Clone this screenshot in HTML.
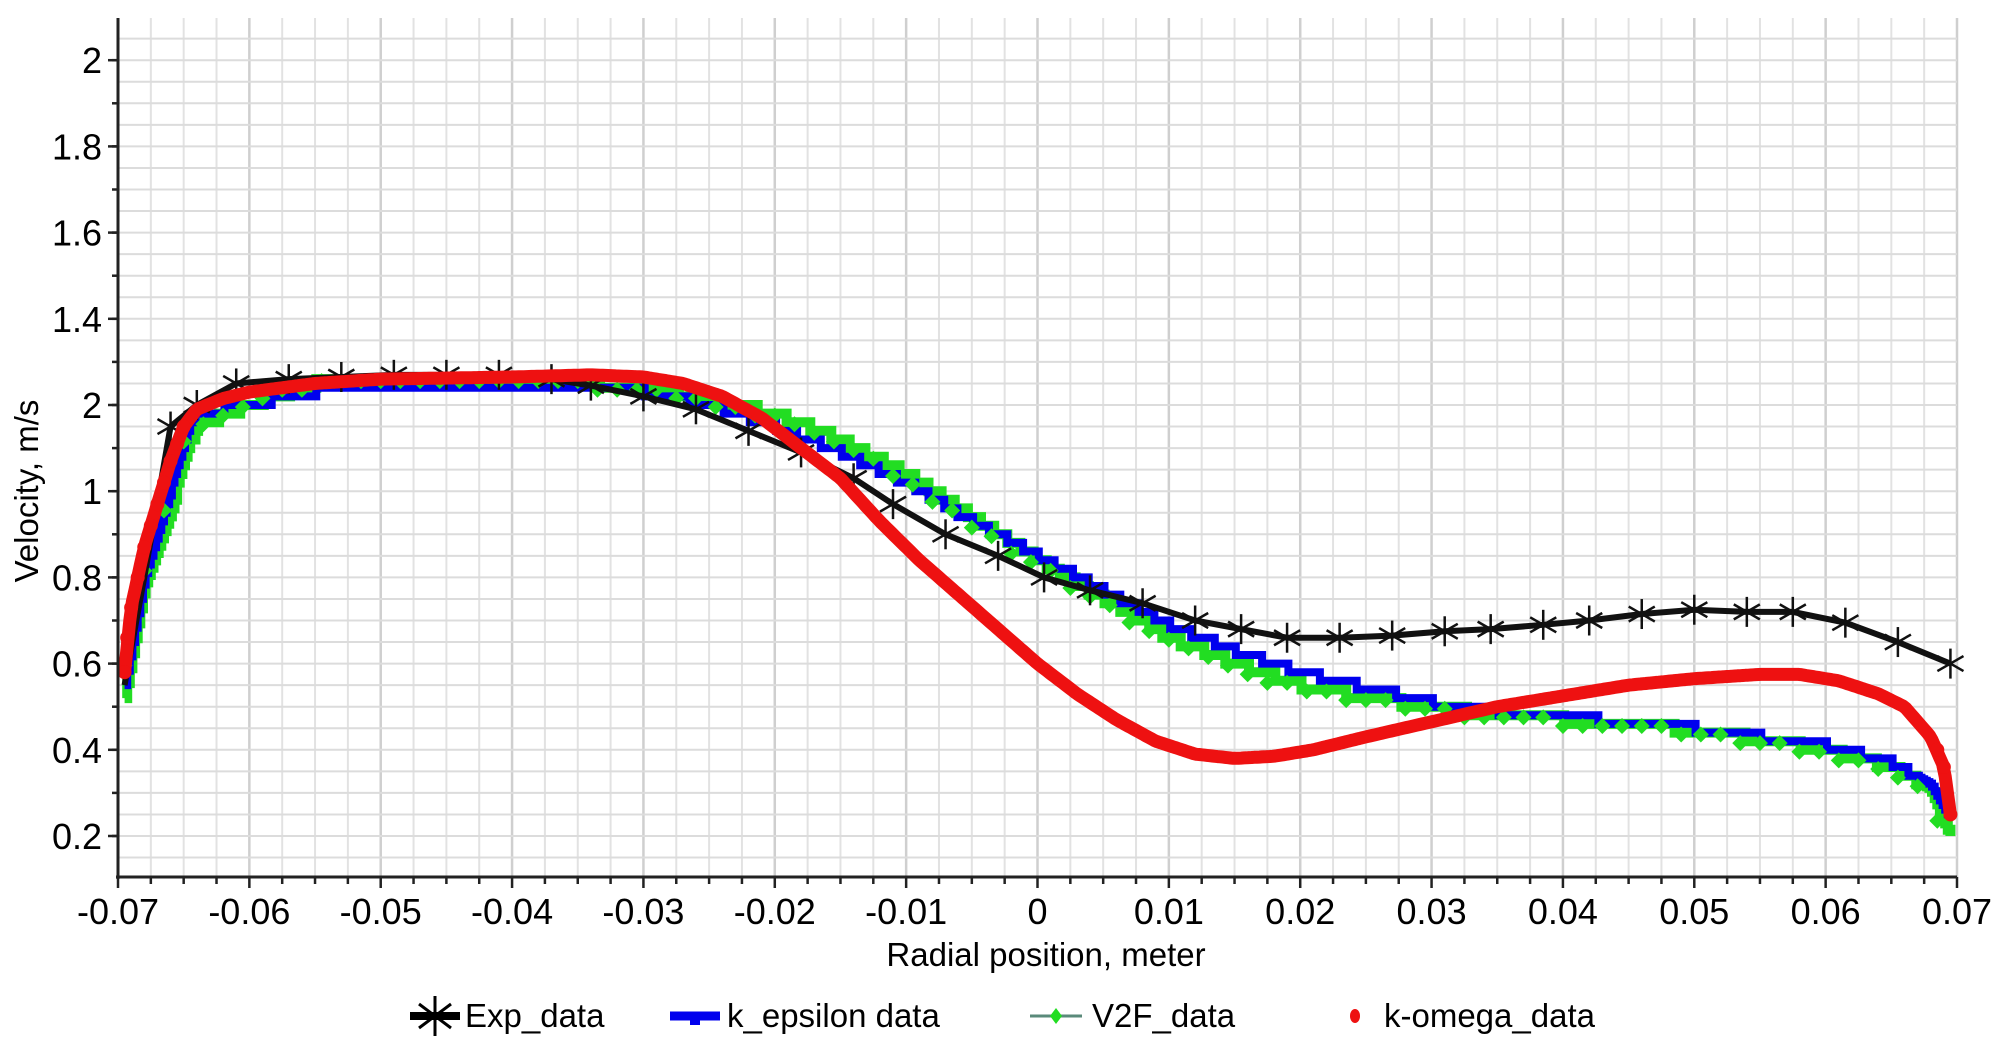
<!DOCTYPE html>
<html><head><meta charset="utf-8"><style>
html,body{margin:0;padding:0;background:#fff;}
svg{display:block;font-family:"Liberation Sans",sans-serif;}
</style></head><body>
<svg id="s" width="2000" height="1041" viewBox="0 0 2000 1041" xmlns="http://www.w3.org/2000/svg">
<rect width="2000" height="1041" fill="#fff"/>
<g id="grid"></g>
<g id="series"></g>
<g id="axes"></g>
<text x="1046" y="966" font-size="33" text-anchor="middle">Radial position, meter</text>
<text transform="translate(38,491) rotate(-90)" font-size="33" text-anchor="middle">Velocity, m/s</text>
<g id="legend" font-size="33">
<line x1="410" y1="1016" x2="460" y2="1016" stroke="#000" stroke-width="8"/>
<g stroke="#000" stroke-width="3"><line x1="435" y1="996" x2="435" y2="1036"/><line x1="419" y1="1004" x2="451" y2="1028"/><line x1="419" y1="1028" x2="451" y2="1004"/></g>
<text x="465" y="1027">Exp_data</text>
<line x1="670" y1="1016" x2="720" y2="1016" stroke="#0000ee" stroke-width="9"/>
<rect x="690" y="1016" width="10" height="9" fill="#0000ee"/>
<text x="727" y="1027">k_epsilon data</text>
<line x1="1030" y1="1016" x2="1082" y2="1016" stroke="#5a8a7a" stroke-width="3"/>
<polygon points="1056,1008 1062,1016 1056,1024 1050,1016" fill="#22dd22"/>
<text x="1092" y="1027">V2F_data</text>
<ellipse cx="1355" cy="1016" rx="5" ry="7" fill="#ee1111"/>
<text x="1384" y="1027">k-omega_data</text>
</g>
</svg>
<script>
const NS="http://www.w3.org/2000/svg";
const X=x=>118+(x+0.07)/0.14*1839;
const Y=v=>836-(v-0.2)*431;
function el(p,t,a){const e=document.createElementNS(NS,t);for(const k in a)e.setAttribute(k,a[k]);p.appendChild(e);return e;}
const G=document.getElementById('grid'),A=document.getElementById('axes'),S=document.getElementById('series');
for(let i=0;i<=56;i++){const x=X(-0.07+i*0.0025);el(G,'line',{x1:x,y1:18,x2:x,y2:877,stroke:i%4==0?'#cfcfcf':'#e2e2e2','stroke-width':i%4==0?2.5:2});}
for(let v=0.15;v<=2.1;v+=0.05){const y=Y(v);if(y<18)break;el(G,'line',{x1:118,y1:y,x2:1957,y2:y,stroke:'#dcdcdc','stroke-width':2});}
el(A,'line',{x1:118,y1:18,x2:118,y2:879,stroke:'#222','stroke-width':3});
el(A,'line',{x1:116,y1:877,x2:1957,y2:877,stroke:'#222','stroke-width':3});
const ylab=['0.2','0.4','0.6','0.8','1','2','1.4','1.6','1.8','2'];
for(let i=0;i<10;i++){const v=0.2+i*0.2,y=Y(v);el(A,'line',{x1:108,y1:y,x2:118,y2:y,stroke:'#222','stroke-width':2.5});const t=el(A,'text',{x:102,y:y+13,'font-size':36,'text-anchor':'end'});t.textContent=ylab[i];}
for(let v=0.1;v<=2.1;v+=0.1){const y=Y(v);if(y<18||y>878)continue;el(A,'line',{x1:112,y1:y,x2:118,y2:y,stroke:'#222','stroke-width':2.5});}
for(let i=0;i<=56;i++){const xv=-0.07+i*0.0025,x=X(xv);const maj=i%4==0;el(A,'line',{x1:x,y1:877,x2:x,y2:maj?888:884,stroke:'#222','stroke-width':2.5});
 if(maj){let v=Math.round(xv*100)/100;let s=v==0?'0':(v<0?'-':'')+Math.abs(v).toFixed(2);const t=el(A,'text',{x:x,y:924,'font-size':36,'text-anchor':'middle'});t.textContent=s;}}
function interp(d,x){for(let i=0;i<d.length-1;i++){if(x>=d[i][0]&&x<=d[i+1][0]){const t=(x-d[i][0])/(d[i+1][0]-d[i][0]);return d[i][1]+t*(d[i+1][1]-d[i][1]);}}return d[d.length-1][1];}
const blue=[[-0.0695,0.55],[-0.068,0.8],[-0.066,1.0],[-0.065,1.12],[-0.064,1.18],[-0.06,1.2],[-0.055,1.23],[-0.05,1.24],[-0.04,1.245],[-0.035,1.24],[-0.03,1.23],[-0.025,1.2],[-0.02,1.15],[-0.015,1.09],[-0.01,1.02],[-0.005,0.93],[0,0.85],[0.005,0.77],[0.01,0.69],[0.015,0.63],[0.02,0.58],[0.025,0.545],[0.03,0.51],[0.035,0.49],[0.04,0.475],[0.045,0.465],[0.05,0.45],[0.055,0.43],[0.06,0.41],[0.065,0.37],[0.068,0.32],[0.0695,0.24]];
const green=[[-0.0695,0.52],[-0.068,0.78],[-0.066,0.95],[-0.065,1.08],[-0.064,1.15],[-0.06,1.2],[-0.055,1.25],[-0.05,1.26],[-0.04,1.26],[-0.03,1.245],[-0.025,1.215],[-0.02,1.18],[-0.015,1.12],[-0.01,1.04],[-0.005,0.94],[0,0.84],[0.005,0.75],[0.01,0.66],[0.015,0.6],[0.02,0.55],[0.025,0.52],[0.03,0.5],[0.035,0.48],[0.04,0.47],[0.045,0.46],[0.05,0.445],[0.055,0.425],[0.06,0.4],[0.065,0.36],[0.068,0.31],[0.0695,0.2]];
function steps(d,q){let pts=[];let prev=null;for(let x=-0.0695;x<=0.0695;x+=0.0002){let v=Math.round(interp(d,x)/q)*q;if(x<-0.066||x>0.067)v=interp(d,x);if(prev!==null)pts.push([X(x),Y(prev)]);pts.push([X(x),Y(v)]);prev=v;}return pts.map(p=>p[0].toFixed(1)+','+p[1].toFixed(1)).join(' ');}
el(S,'polyline',{points:steps(green,0.02),fill:'none',stroke:'#22dd22','stroke-width':10});
el(S,'polyline',{points:steps(blue,0.02),fill:'none',stroke:'#0000ee','stroke-width':8});
for(let x=-0.0695;x<=0.0695;x+=0.0015){const v=Math.round(interp(green,x+0.0005)/0.02)*0.02;const cx=X(x),cy=Y(v)+2;el(S,'polygon',{points:`${cx},${cy-8} ${cx+8},${cy} ${cx},${cy+8} ${cx-8},${cy}`,fill:'#22dd22'});}
const exp=[[-0.0695,0.55],[-0.068,0.8],[-0.066,1.15],[-0.064,1.2],[-0.061,1.25],[-0.057,1.26],[-0.053,1.265],[-0.049,1.27],[-0.045,1.27],[-0.041,1.27],[-0.037,1.26],[-0.034,1.245],[-0.030,1.22],[-0.026,1.19],[-0.022,1.14],[-0.018,1.09],[-0.014,1.03],[-0.011,0.97],[-0.007,0.9],[-0.003,0.85],[0.0005,0.8],[0.004,0.77],[0.008,0.74],[0.012,0.7],[0.0155,0.68],[0.019,0.66],[0.023,0.66],[0.027,0.665],[0.031,0.675],[0.0345,0.68],[0.0385,0.69],[0.042,0.7],[0.046,0.715],[0.050,0.725],[0.054,0.72],[0.0575,0.72],[0.0615,0.695],[0.0655,0.65],[0.0695,0.6]];
el(S,'polyline',{points:exp.map(p=>X(p[0])+','+Y(p[1])).join(' '),fill:'none',stroke:'#111','stroke-width':6});
exp.slice(2).forEach(p=>{const cx=X(p[0]),cy=Y(p[1]),r=15;const g=el(S,'g',{stroke:'#111','stroke-width':2.5});el(g,'line',{x1:cx,y1:cy-r,x2:cx,y2:cy+r});el(g,'line',{x1:cx-r*0.87,y1:cy-r*0.5,x2:cx+r*0.87,y2:cy+r*0.5});el(g,'line',{x1:cx-r*0.87,y1:cy+r*0.5,x2:cx+r*0.87,y2:cy-r*0.5});});
const red=[[-0.0695,0.58],[-0.069,0.73],[-0.068,0.87],[-0.067,0.97],[-0.066,1.07],[-0.065,1.15],[-0.064,1.19],[-0.062,1.215],[-0.06,1.23],[-0.055,1.25],[-0.05,1.26],[-0.04,1.265],[-0.034,1.27],[-0.03,1.265],[-0.027,1.25],[-0.024,1.22],[-0.021,1.17],[-0.018,1.1],[-0.015,1.03],[-0.012,0.93],[-0.009,0.84],[-0.006,0.76],[-0.003,0.68],[0,0.6],[0.003,0.53],[0.006,0.47],[0.009,0.42],[0.012,0.39],[0.015,0.38],[0.018,0.385],[0.021,0.4],[0.025,0.43],[0.03,0.465],[0.035,0.5],[0.04,0.525],[0.045,0.55],[0.05,0.565],[0.055,0.575],[0.058,0.575],[0.061,0.56],[0.064,0.53],[0.066,0.5],[0.068,0.43],[0.069,0.36],[0.0695,0.25]];
let rp=[];for(let x=-0.0695;x<=0.0695;x+=0.0002)rp.push(X(x).toFixed(1)+','+Y(interp(red,x)).toFixed(1));
el(S,'polyline',{points:rp.join(' '),fill:'none',stroke:'#ee1111','stroke-width':13,'stroke-linejoin':'round'});
[[-0.0695,0.58],[-0.0693,0.66],[-0.069,0.73],[-0.0685,0.8],[-0.068,0.87],[-0.0675,0.92],[-0.067,0.97],[-0.0665,1.02],[-0.066,1.07],[-0.0655,1.11],[-0.065,1.15],[0.0685,0.4],[0.069,0.36],[0.0695,0.25]].forEach(p=>el(S,'circle',{cx:X(p[0]),cy:Y(p[1]),r:7,fill:'#ee1111'}));
</script>
</body></html>
